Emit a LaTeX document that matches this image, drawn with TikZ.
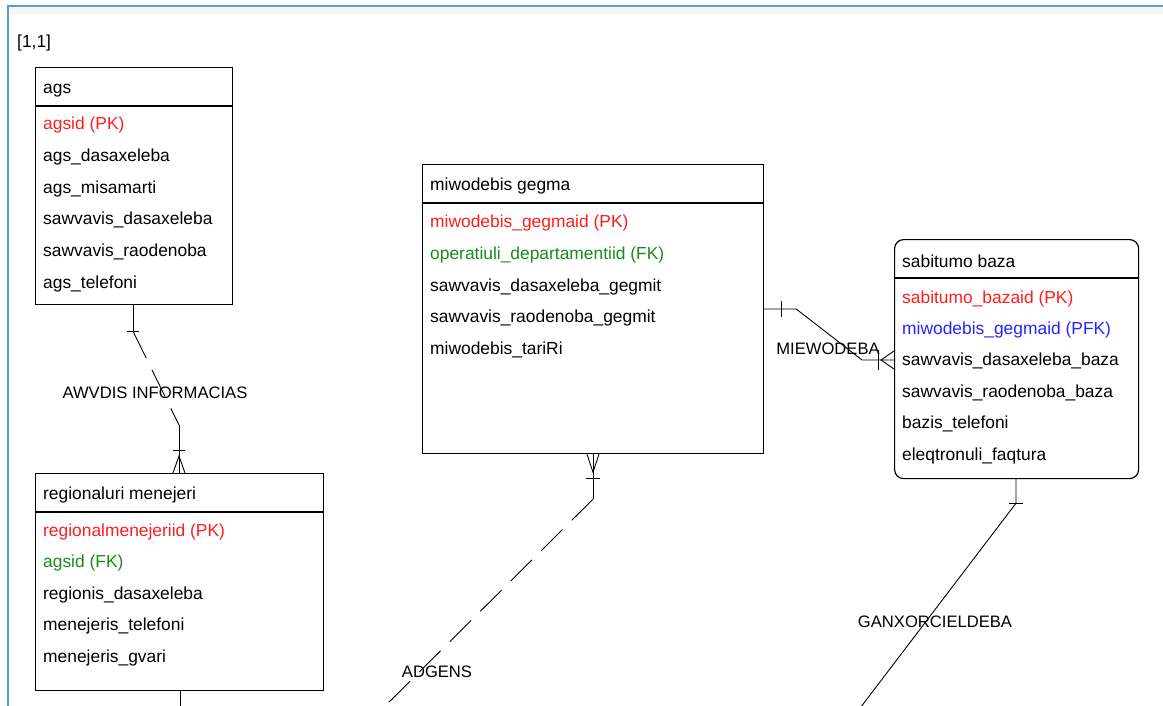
\documentclass[tikz,border=0pt]{standalone}
\usepackage{fontspec}
\setmainfont{Liberation Sans}
\usetikzlibrary{positioning,calc}

\definecolor{pkred}{RGB}{255,28,28}
\definecolor{fkgreen}{RGB}{24,140,24}
\definecolor{pfkblue}{RGB}{36,36,255}
\definecolor{frameblue}{RGB}{91,155,213}

\newcommand{\erfont}{\fontsize{17.4}{20}\selectfont}
\newcommand{\relfont}{\fontsize{16.6}{20}\selectfont}

\tikzset{
  entity/.style={draw=black, line width=1.2pt, inner sep=0pt, anchor=north west},
  attr/.style={anchor=base west, inner sep=0pt, font=\erfont},
  sepline/.style={line width=1.6pt},
  rel/.style={line width=0.9pt},
  nonid/.style={rel, dash pattern=on 30pt off 13pt},
  rellabel/.style={font=\relfont, inner sep=0pt},
}

\begin{document}
\begin{tikzpicture}[x=1pt,y=-1pt]
  \useasboundingbox (0,0) rectangle (1163,706);
  \clip (0,0) rectangle (1163,706);

  % page frame
  \fill[gray!8] (9,7) rectangle (1163,14);
  \draw[frameblue, line width=2pt] (8,720) -- (8,6) -- (1170,6);
  \node[attr] (page) at (17,48) {[1,1]};

  % ags
  \node[entity, minimum width=197pt, minimum height=237pt] (ags) at (35,67) {};
  \draw[sepline] ([yshift=-39pt]ags.north west) -- ([yshift=-39pt]ags.north east);
  \node[attr] (ags-t) at (43,94) {ags};
  \foreach \c/\lbl [count=\i from 0] in {
    pkred/agsid (PK),
    black/ags\_dasaxeleba,
    black/ags\_misamarti,
    black/sawvavis\_dasaxeleba,
    black/sawvavis\_raodenoba,
    black/ags\_telefoni
  } {
    \node[attr, text=\c] (ags-\i) at (43,130+31.6*\i) {\lbl};
  }

  % regionaluri menejeri
  \node[entity, minimum width=288pt, minimum height=217pt] (reg) at (35,473) {};
  \draw[sepline] ([yshift=-39pt]reg.north west) -- ([yshift=-39pt]reg.north east);
  \node[attr] (reg-t) at (43,499) {regionaluri menejeri};
  \foreach \c/\lbl [count=\i from 0] in {
    pkred/regionalmenejeriid (PK),
    fkgreen/agsid (FK),
    black/regionis\_dasaxeleba,
    black/menejeris\_telefoni,
    black/menejeris\_gvari
  } {
    \node[attr, text=\c] (reg-\i) at (43,536+31.5*\i) {\lbl};
  }

  % miwodebis gegma
  \node[entity, minimum width=341pt, minimum height=289pt] (miw) at (422,164) {};
  \draw[sepline] ([yshift=-39pt]miw.north west) -- ([yshift=-39pt]miw.north east);
  \node[attr] (miw-t) at (430,191) {miwodebis gegma};
  \foreach \c/\lbl [count=\i from 0] in {
    pkred/miwodebis\_gegmaid (PK),
    fkgreen/operatiuli\_departamentiid (FK),
    black/sawvavis\_dasaxeleba\_gegmit,
    black/sawvavis\_raodenoba\_gegmit,
    black/miwodebis\_tariRi
  } {
    \node[attr, text=\c] (miw-\i) at (430,228+31.5*\i) {\lbl};
  }

  % sabitumo baza
  \node[entity, rounded corners=9pt, minimum width=244pt, minimum height=239pt] (sab) at (894,239) {};
  \draw[sepline] ([yshift=-39pt]sab.north west) -- ([yshift=-39pt]sab.north east);
  \node[attr] (sab-t) at (902,267) {sabitumo baza};
  \foreach \c/\lbl [count=\i from 0] in {
    pkred/sabitumo\_bazaid (PK),
    pfkblue/miwodebis\_gegmaid (PFK),
    black/sawvavis\_dasaxeleba\_baza,
    black/sawvavis\_raodenoba\_baza,
    black/bazis\_telefoni,
    black/eleqtronuli\_faqtura
  } {
    \node[attr, text=\c] (sab-\i) at (902,303+31.4*\i) {\lbl};
  }

  % AWVDIS INFORMACIAS: ags -> regionaluri menejeri
  \coordinate (aw-a) at ([xshift=98pt]ags.south west);
  \coordinate (aw-b) at ([yshift=-26pt]aw-a);
  \coordinate (aw-d) at ([xshift=144pt]reg.north west);
  \coordinate (aw-c) at ([yshift=48pt]aw-d);
  \draw[rel] (aw-a) -- (aw-b);
  \draw[rel] ([xshift=-6pt]aw-b) -- ([xshift=6pt]aw-b);
  \draw[nonid] (aw-b) -- (aw-c);
  \draw[rel] (aw-c) -- (aw-d);
  \draw[rel] ([xshift=-6pt,yshift=23pt]aw-d) -- ([xshift=6pt,yshift=23pt]aw-d);
  \draw[rel] ([xshift=-6pt]aw-d) -- ([yshift=17pt]aw-d) -- ([xshift=6pt]aw-d);
  \node[rellabel] (aw-l) at (155,393) {AWVDIS INFORMACIAS};

  % MIEWODEBA: miwodebis gegma -> sabitumo baza
  \coordinate (mi-a) at ([yshift=-145pt]miw.north east);
  \coordinate (mi-b) at ([xshift=32pt]mi-a);
  \coordinate (mi-d) at ([yshift=-121pt]sab.north west);
  \coordinate (mi-c) at ([xshift=-32pt]mi-d);
  \draw[rel] (mi-a) -- (mi-b) -- (mi-c) -- (mi-d);
  \draw[rel] ([xshift=17pt,yshift=8pt]mi-a) -- ([xshift=17pt,yshift=-8pt]mi-a);
  \draw[rel] ([xshift=-16pt,yshift=10pt]mi-d) -- ([xshift=-16pt,yshift=-10pt]mi-d);
  \draw[rel] ([yshift=9pt]mi-d) -- ([xshift=-13pt]mi-d) -- ([yshift=-9pt]mi-d);
  \node[rellabel] (mi-l) at (828,349) {MIEWODEBA};

  % ADGENS: miwodebis gegma -> (off page)
  \coordinate (ad-a) at ([xshift=171pt]miw.south west);
  \coordinate (ad-b) at ([yshift=-45pt]ad-a);
  \coordinate (ad-c) at (371,720);
  \draw[rel] (ad-a) -- (ad-b);
  \draw[rel] ([xshift=-6pt]ad-a) -- ([yshift=-18pt]ad-a) -- ([xshift=6pt]ad-a);
  \draw[rel] ([xshift=-7pt,yshift=-24pt]ad-a) -- ([xshift=7pt,yshift=-24pt]ad-a);
  \draw[nonid] (ad-b) -- (ad-c);
  \node[rellabel] (ad-l) at (437,672) {ADGENS};

  % GANXORCIELDEBA: sabitumo baza -> (off page)
  \coordinate (ga-a) at ([xshift=122pt]sab.south west);
  \coordinate (ga-b) at ([yshift=-24pt]ga-a);
  \coordinate (ga-c) at (851,720);
  \draw[rel] (ga-a) -- (ga-b) -- (ga-c);
  \draw[rel] ([xshift=-7pt]ga-b) -- ([xshift=7pt]ga-b);
  \node[rellabel] (ga-l) at (935,622) {GANXORCIELDEBA};

  % regionaluri menejeri -> (off page)
  \coordinate (rg-a) at ([xshift=145pt]reg.south west);
  \coordinate (rg-b) at (180,720);
  \draw[rel] (rg-a) -- (rg-b);
\end{tikzpicture}
\end{document}
